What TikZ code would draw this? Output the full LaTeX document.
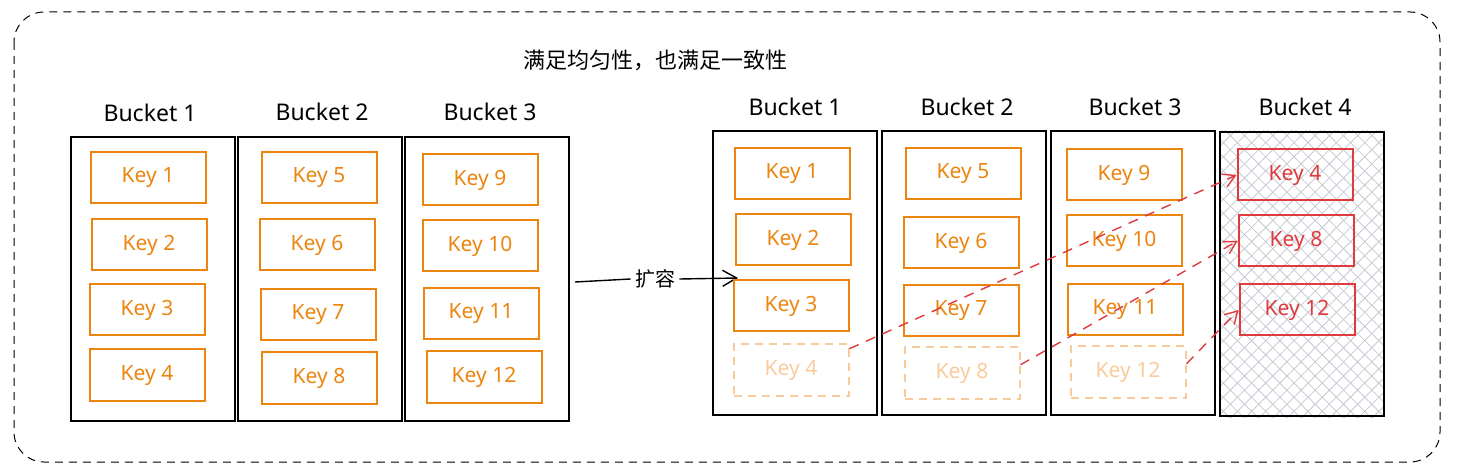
\documentclass[tikz,border=0pt]{standalone}
\usepackage{fontspec}
\setmainfont{Noto Sans}
\newfontfamily\cjk{Noto Sans CJK SC}
\usetikzlibrary{arrows.meta,patterns.meta}

\definecolor{keyorange}{HTML}{EC8510}
\definecolor{keyghost}{HTML}{F9CB9C}
\definecolor{keyred}{HTML}{E03A3E}
\definecolor{hatchgray}{HTML}{C4CAD2}

\tikzset{
    bucket/.style={draw=black, line width=1pt, minimum width=82pt, minimum height=142pt},
    bucketname/.style={font=\fontsize{11.5}{13}\selectfont},
    key/.style={draw=keyorange, text=keyorange, line width=1pt, minimum width=57.5pt, minimum height=25.5pt, font=\fontsize{10.5}{12}\selectfont},
    ghost/.style={key, draw=keyghost, text=keyghost, dashed, dash pattern=on 4pt off 3pt},
    moved/.style={key, draw=keyred, text=keyred},
    movearrow/.style={draw=keyred, line width=0.7pt, dash pattern=on 5pt off 4pt, -{Straight Barb[length=6pt,width=7pt]}},
}

\begin{document}
\begin{tikzpicture}[x=0.5pt, y=-0.5pt]
    \useasboundingbox (0,0) rectangle (1460,475);

    % outer frame
    \draw[line width=0.5pt, dash pattern=on 4pt off 3pt, rounded corners=15pt] (14,12) rectangle (1440,462);

    \node[font=\cjk\fontsize{11}{13}\selectfont] (title) at (655,60) {满足均匀性，也满足一致性};

    % before
    \node[bucket] (lb1) at (153,279) {};
    \node[bucket] (lb2) at (320,279) {};
    \node[bucket] (lb3) at (487,279) {};
    \node[bucketname] (ln1) at (150,113) {Bucket 1};
    \node[bucketname] (ln2) at (322,112) {Bucket 2};
    \node[bucketname] (ln3) at (490,112) {Bucket 3};

    \foreach \k/\x/\y in {1/148/178, 2/149/245, 3/147/310, 4/147/375,
                          5/319/178, 6/317/245, 7/318/315, 8/319/378,
                          9/480/180, 10/480/246, 11/481/314, 12/484/377} {
        \node[key] (lk\k) at (\x,\y) {Key \k};
    }

    % expansion
    \coordinate (expfrom) at (575,282);
    \coordinate (expto) at (738,278);
    \node[font=\cjk\fontsize{10}{12}\selectfont, inner sep=2pt] (exp) at (655,279) {扩容};
    \draw[line width=0.7pt] (expfrom) -- (exp.west);
    \draw[line width=0.7pt, -{Straight Barb[length=7pt,width=8pt]}] (exp.east) -- (expto);

    % after
    \fill[pattern={Lines[angle=45,distance=5pt,line width=0.4pt]}, pattern color=hatchgray] (1221,131) rectangle (1383,417);
    \fill[pattern={Lines[angle=-45,distance=5pt,line width=0.4pt]}, pattern color=hatchgray] (1221,131) rectangle (1383,417);
    \node[bucket] (rb1) at (795,273) {};
    \node[bucket] (rb2) at (964,273) {};
    \node[bucket] (rb3) at (1133,273) {};
    \node[bucket] (rb4) at (1302,274) {};
    \node[bucketname] (rn1) at (795,107) {Bucket 1};
    \node[bucketname] (rn2) at (967,107) {Bucket 2};
    \node[bucketname] (rn3) at (1135,107) {Bucket 3};
    \node[bucketname] (rn4) at (1305,107) {Bucket 4};

    \foreach \k/\x/\y in {1/792/174, 2/793/240, 3/791/306,
                          5/963/174, 6/961/243, 7/961/311,
                          9/1124/175, 10/1124/241, 11/1125/310} {
        \node[key] (rk\k) at (\x,\y) {Key \k};
    }
    \foreach \k/\x/\y in {4/791/370, 8/962/373, 12/1128/372} {
        \node[ghost] (gk\k) at (\x,\y) {Key \k};
    }
    \foreach \k/\x/\y in {4/1295/175, 8/1296/241, 12/1297/310} {
        \node[moved] (mk\k) at (\x,\y) {Key \k};
    }

    \draw[movearrow] (gk4.20) -- (mk4.west);
    \draw[movearrow] (gk8.8) -- (mk8.west);
    \draw[movearrow] (gk12.8) -- (mk12.west);
\end{tikzpicture}
\end{document}
